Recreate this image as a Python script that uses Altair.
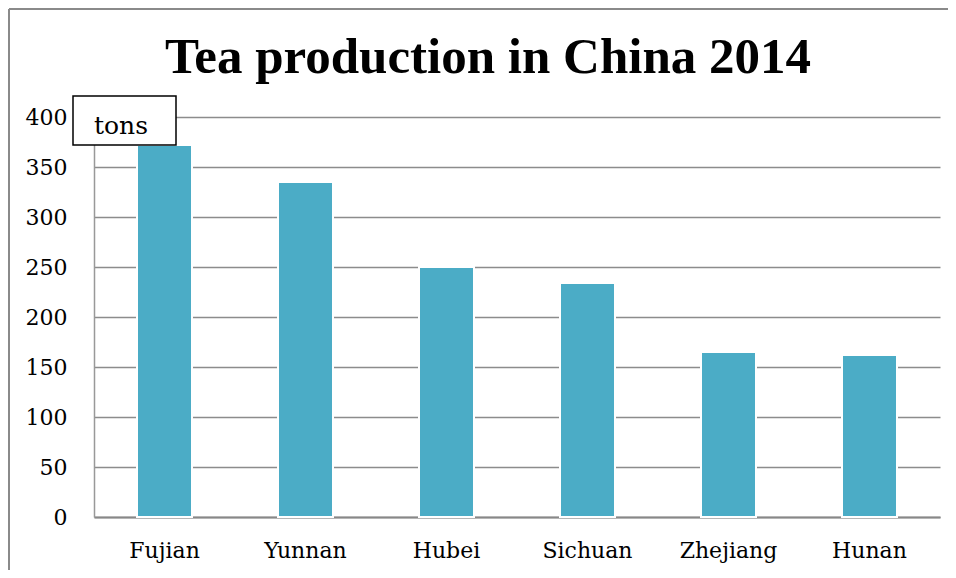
import altair as alt
import pandas as pd

provinces = ["Fujian", "Yunnan", "Hubei", "Sichuan", "Zhejiang", "Hunan"]
production = [372, 335, 250, 234, 165, 162]
y_ticks = [0, 50, 100, 150, 200, 250, 300, 350, 400]
title_text = ["Tea production in China 2014"]
unit_text = ["tons"]

df = pd.DataFrame({"province": provinces, "tons": production})

bars = alt.Chart(df).mark_bar(color="#4BACC6", stroke="white", strokeWidth=2).encode(
    x=alt.X(
        "province:N",
        sort=provinces,
        scale=alt.Scale(paddingInner=0.61, paddingOuter=0.305),
        axis=alt.Axis(
            title=None, labelAngle=0, ticks=False, labelPadding=23,
            labelFont="DejaVu Serif", labelFontSize=22, labelColor="black",
            domainColor="#888888", domainWidth=2, grid=False,
        ),
    ),
    y=alt.Y(
        "tons:Q",
        scale=alt.Scale(domain=[0, 400], nice=False),
        axis=alt.Axis(
            title=None, values=y_ticks, ticks=False, labelPadding=27,
            labelFont="DejaVu Serif", labelFontSize=22, labelColor="black",
            domainColor="#999999", domainWidth=1.5,
            gridColor="#8c8c8c", gridWidth=1.5,
        ),
    ),
)

one = pd.DataFrame({"k": [0]})

border_top = alt.Chart(one).mark_rule(color="#8a8a8a", strokeWidth=2).encode(
    x=alt.value(-85), x2=alt.value(1000), y=alt.value(-108), y2=alt.value(-108)
)
border_left = alt.Chart(one).mark_rule(color="#8a8a8a", strokeWidth=2).encode(
    x=alt.value(-85), x2=alt.value(-85), y=alt.value(-108), y2=alt.value(600)
)

title = alt.Chart(pd.DataFrame({"t": title_text})).mark_text(
    font="Liberation Serif", fontSize=51, fontWeight="bold", color="black",
    align="center", baseline="alphabetic",
).encode(text="t:N", x=alt.value(394), y=alt.value(-44))

box = alt.Chart(one).mark_rect(fill="white", stroke="black", strokeWidth=1.5).encode(
    x=alt.value(-21), x2=alt.value(82), y=alt.value(-21), y2=alt.value(28)
)

unit = alt.Chart(pd.DataFrame({"t": unit_text})).mark_text(
    font="DejaVu Serif", fontSize=25, color="black", align="left", baseline="alphabetic",
).encode(text="t:N", x=alt.value(0), y=alt.value(17))

chart = alt.layer(bars, box, unit, title, border_top, border_left).properties(
    width=846, height=400,
    padding={"left": 86, "top": 109, "right": 8, "bottom": 53},
    autosize=alt.AutoSizeParams(type="none"),
    background="white",
).configure_view(stroke=None)

chart.save("out.html", embed_options={"renderer": "svg", "actions": False})
